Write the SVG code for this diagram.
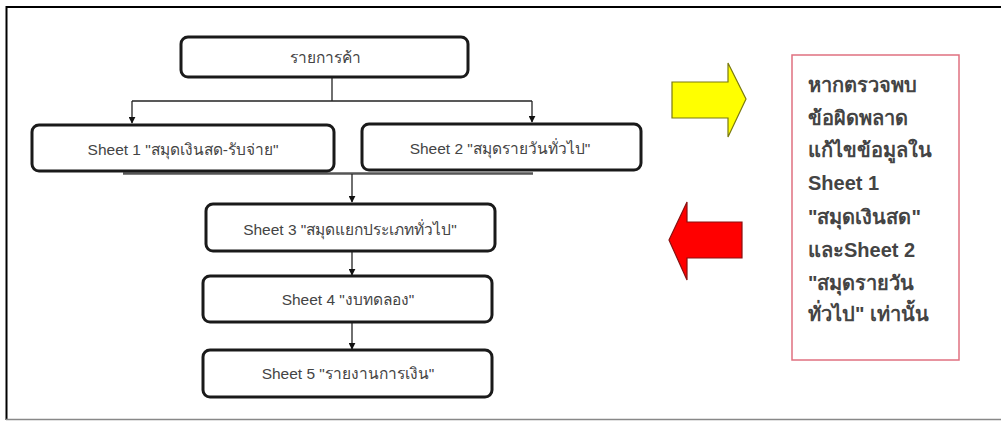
<svg xmlns="http://www.w3.org/2000/svg" width="1001" height="421" viewBox="0 0 1001 421">
<style>
.node rect{fill:#fff;stroke:#1a1a1a;stroke-width:3}
.node text{font-family:"Liberation Sans","Noto Sans",sans-serif;font-size:15.5px;fill:#444;text-anchor:middle;dominant-baseline:central}
.conn line{stroke:#222;stroke-width:1.3}
.note{font-family:"Liberation Sans","Noto Sans",sans-serif;font-size:20px;font-weight:bold;fill:#444}
</style>
<defs>
<marker id="ah" viewBox="0 0 10 10" refX="9" refY="5" markerWidth="7" markerHeight="7" markerUnits="userSpaceOnUse" orient="auto">
<path d="M0,0 L10,5 L0,10 z" fill="#111"/>
</marker>
</defs>
<rect x="0" y="0" width="1001" height="421" fill="#fff"/>
<line x1="6" y1="7" x2="1001" y2="7" stroke="#000" stroke-width="2"/>
<line x1="6.5" y1="6" x2="6.5" y2="420" stroke="#000" stroke-width="2"/>
<line x1="6" y1="419.5" x2="1001" y2="419.5" stroke="#888" stroke-width="1.5"/>

<g id="connectors" class="conn">
<line x1="332" y1="77" x2="332" y2="101"/>
<line x1="132" y1="101" x2="532" y2="101"/>
<line x1="132" y1="101" x2="132" y2="123" marker-end="url(#ah)"/>
<line x1="532" y1="101" x2="532" y2="122" marker-end="url(#ah)"/>
<line x1="123" y1="173.5" x2="533" y2="173.5" style="stroke:#555;stroke-width:2.5"/>
<line x1="352" y1="174" x2="352" y2="202" marker-end="url(#ah)"/>
<line x1="352" y1="251" x2="352" y2="275" marker-end="url(#ah)"/>
<line x1="352" y1="322" x2="352" y2="349" marker-end="url(#ah)"/>
</g>

<g id="n0" class="node"><rect x="181" y="37" width="287" height="40" rx="7"/><text x="325" y="57">รายการค้า</text></g>
<g id="n1" class="node"><rect x="32" y="125" width="302" height="46" rx="7"/><text x="183" y="149">Sheet 1 "สมุดเงินสด-รับจ่าย"</text></g>
<g id="n2" class="node"><rect x="362" y="124" width="279" height="46" rx="7"/><text x="500" y="148">Sheet 2 "สมุดรายวันทั่วไป"</text></g>
<g id="n3" class="node"><rect x="206" y="204" width="289" height="47" rx="7"/><text x="350" y="229">Sheet 3 "สมุดแยกประเภททั่วไป"</text></g>
<g id="n4" class="node"><rect x="203" y="276" width="289" height="46" rx="7"/><text x="348" y="299">Sheet 4 "งบทดลอง"</text></g>
<g id="n5" class="node"><rect x="203" y="350" width="289" height="47" rx="7"/><text x="348" y="373">Sheet 5 "รายงานการเงิน"</text></g>

<g id="arrow-yellow"><path d="M672,82 L728,82 L728,63 L746,99 L728,137 L728,118 L672,118 Z" fill="#ffff00" stroke="#7a7a10" stroke-width="1.2"/></g>
<g id="arrow-red"><path d="M742,222 L687,222 L687,202 L669,240 L687,280 L687,258 L742,258 Z" fill="#ff0000" stroke="#8a1010" stroke-width="1.2"/></g>

<g id="note">
<rect x="792" y="55" width="167" height="305" fill="#fff" stroke="#e07080" stroke-width="1.5"/>
<text class="note" x="808" y="92">หากตรวจพบ</text>
<text class="note" x="808" y="125">ข้อผิดพลาด</text>
<text class="note" x="808" y="157">แก้ไขข้อมูลใน</text>
<text class="note" x="808" y="190">Sheet 1</text>
<text class="note" x="808" y="224">"สมุดเงินสด"</text>
<text class="note" x="808" y="257">และSheet 2</text>
<text class="note" x="808" y="290">"สมุดรายวัน</text>
<text class="note" x="808" y="321">ทั่วไป" เท่านั้น</text>
</g>
</svg>
